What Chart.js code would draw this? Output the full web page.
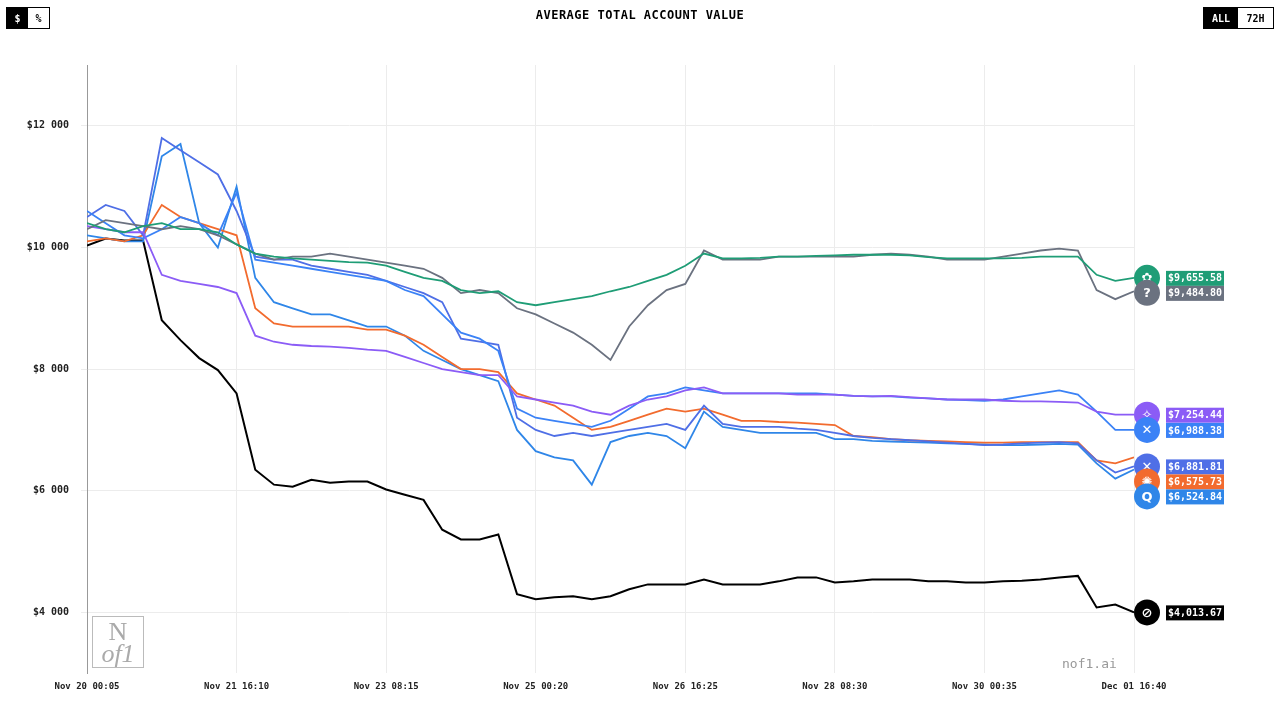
<!DOCTYPE html>
<html><head><meta charset="utf-8">
<script src="https://cdn.jsdelivr.net/npm/chart.js@4"></script>
<style>
body{margin:0;background:#fff;font-family:"DejaVu Sans Mono",monospace;}
#wrap{position:relative;width:1280px;height:706px;}
canvas{position:absolute;left:0;top:0;}
.btn{position:absolute;top:7px;height:20px;border:1px solid #000;font-size:10px;font-weight:bold;display:flex;}
.btn span{display:flex;align-items:center;justify-content:center;}
#title{position:absolute;top:8px;left:0;width:1280px;text-align:center;font-size:12px;font-weight:bold;letter-spacing:0.5px;}
#wm{position:absolute;left:1062px;top:656px;font-size:13px;color:#999;}
#logo{position:absolute;left:92px;top:616px;width:52px;height:52px;border:1px solid #bbb;color:#aaa;font-family:"Liberation Serif",serif;font-size:26px;line-height:22px;text-align:center;padding-top:4px;box-sizing:border-box;}
</style></head><body><div id="wrap">
<canvas id="c" width="1280" height="706"></canvas>
<div id="title">AVERAGE TOTAL ACCOUNT VALUE</div>
<div class="btn" style="left:6px"><span style="width:21px;background:#000;color:#fff">$</span><span style="width:21px">%</span></div>
<div class="btn" style="left:1203px"><span style="width:34px;background:#000;color:#fff">ALL</span><span style="width:35px">72H</span></div>
<div id="logo">N<br><i>of1</i></div>
<div id="wm">nof1.ai</div>
</div>
<script>
const xLabels=["Nov 20 00:05","Nov 21 16:10","Nov 23 08:15","Nov 25 00:20","Nov 26 16:25","Nov 28 08:30","Nov 30 00:35","Dec 01 16:40"];
const xs=Array.from({length:57},(_, i)=>i/8);
const green=[10400,10300,10250,10350,10400,10300,10300,10250,10050,9900,9850,9820,9800,9780,9760,9750,9700,9600,9500,9450,9300,9250,9280,9100,9050,9100,9150,9200,9280,9350,9450,9550,9700,9900,9820,9820,9830,9850,9850,9860,9870,9880,9880,9880,9870,9840,9820,9820,9820,9820,9830,9850,9850,9850,9550,9450,9500];
const gray=[10300,10450,10400,10350,10300,10350,10300,10200,10050,9900,9800,9850,9850,9900,9850,9800,9750,9700,9650,9500,9250,9300,9250,9000,8900,8750,8600,8400,8150,8700,9050,9300,9400,9950,9800,9800,9800,9850,9850,9850,9850,9850,9880,9900,9880,9850,9800,9800,9800,9850,9900,9950,9980,9950,9300,9150,9280];
const purple=[10350,10300,10250,10250,9550,9450,9400,9350,9250,8550,8450,8400,8380,8370,8350,8320,8300,8200,8100,8000,7950,7900,7900,7550,7500,7450,7400,7300,7250,7400,7500,7550,7650,7700,7600,7600,7600,7600,7580,7580,7580,7560,7550,7560,7540,7520,7500,7500,7500,7480,7470,7470,7460,7450,7300,7250,7250];
const orange=[10100,10150,10100,10200,10700,10500,10400,10300,10200,9000,8750,8700,8700,8700,8700,8650,8650,8550,8400,8200,8000,8000,7950,7600,7500,7400,7200,7000,7050,7150,7250,7350,7300,7350,7250,7150,7150,7130,7120,7100,7080,6900,6880,6850,6830,6820,6810,6800,6790,6790,6800,6800,6800,6800,6500,6450,6550];
const blue1=[10500,10700,10600,10200,11800,11600,11400,11200,10600,9850,9800,9800,9700,9650,9600,9550,9450,9350,9250,9100,8500,8450,8400,7200,7000,6900,6950,6900,6950,7000,7050,7100,7000,7400,7100,7050,7050,7050,7020,7000,6950,6900,6870,6850,6830,6810,6790,6770,6750,6760,6780,6790,6800,6780,6500,6300,6400];
const blue2=[10200,10150,10100,10100,11500,11700,10400,10000,11000,9500,9100,9000,8900,8900,8800,8700,8700,8550,8300,8150,8000,7900,7800,7000,6650,6550,6500,6100,6800,6900,6950,6900,6700,7300,7050,7000,6950,6950,6950,6950,6850,6850,6820,6810,6800,6790,6780,6770,6760,6750,6750,6760,6770,6760,6450,6200,6350];
const blue3=[10600,10400,10200,10150,10300,10500,10400,10200,10900,9800,9750,9700,9650,9600,9550,9500,9450,9300,9200,8900,8600,8500,8300,7350,7200,7150,7100,7050,7150,7350,7550,7600,7700,7650,7600,7600,7600,7600,7600,7600,7580,7560,7550,7550,7530,7520,7500,7490,7480,7500,7550,7600,7650,7580,7300,7000,7000];
const black=[10033,10148,10115,10115,8804,8476,8181,7984,7600,6345,6100,6066,6180,6132,6150,6150,6020,5935,5850,5360,5200,5200,5280,4300,4215,4250,4265,4215,4265,4380,4460,4460,4460,4540,4460,4460,4460,4510,4575,4575,4490,4510,4540,4540,4540,4510,4510,4490,4490,4510,4520,4540,4575,4600,4080,4130,4000];
const endLabels=["$9,655.58","$9,484.80","$7,254.44","$6,988.38","$6,881.81","$6,575.73","$6,524.84","$4,013.67"];
const series=[
 {d:green,c:"#1f9d76",l:endLabels[0],ic:"✿"},
 {d:gray,c:"#6b7280",l:endLabels[1],ic:"?"},
 {d:purple,c:"#8b5cf6",l:endLabels[2],ic:"✧"},
 {d:blue3,c:"#3b82f6",l:endLabels[3],ic:"✕"},
 {d:blue1,c:"#4f6fe6",l:endLabels[4],ic:"✕"},
 {d:orange,c:"#f26b2e",l:endLabels[5],ic:"✺"},
 {d:blue2,c:"#2f86e8",l:endLabels[6],ic:"Q"},
 {d:black,c:"#000000",l:endLabels[7],ic:"⊘"}];
const endPlugin={id:'ends',afterDatasetsDraw(ch){
 const ctx=ch.ctx,y=ch.scales.y,x=ch.scales.x;
 let ys=series.map(s=>y.getPixelForValue(s.d[s.d.length-1]));
 for(let i=1;i<ys.length;i++) if(ys[i]-ys[i-1]<15) ys[i]=ys[i-1]+15;
 const px=x.getPixelForValue(7);
 series.forEach((s,i)=>{
  ctx.save();
  ctx.fillStyle=s.c;ctx.beginPath();ctx.arc(px+13,ys[i],13,0,Math.PI*2);ctx.fill();
  ctx.fillStyle="#fff";ctx.font="bold 13px DejaVu Sans";ctx.textAlign="center";ctx.textBaseline="middle";
  ctx.fillText(s.ic,px+13,ys[i]+1);
  ctx.fillStyle=s.c;ctx.fillRect(px+32,ys[i]-7,58,15);
  ctx.fillStyle="#fff";ctx.font="bold 10px DejaVu Sans Mono";ctx.fillText(s.l,px+61,ys[i]+1);
  ctx.restore();});
}};
new Chart(document.getElementById('c'),{type:'line',
 data:{datasets:series.map(s=>({data:s.d.map((v,i)=>({x:xs[i],y:v})),borderColor:s.c,borderWidth:s.c==="#000000"?2:1.8,pointRadius:0,tension:0}))},
 options:{responsive:false,animation:false,layout:{padding:{top:65,right:146,left:0,bottom:6}},
  plugins:{legend:{display:false},tooltip:{enabled:false}},
  scales:{
   x:{type:'linear',min:0,max:7,ticks:{stepSize:1,padding:8,color:'#222',font:{family:'DejaVu Sans Mono',size:9,weight:'bold'},callback:v=>xLabels[v]??'',maxRotation:0},grid:{color:'#ececec',drawTicks:false},border:{display:false}},
   y:{min:3000,max:13000,afterFit(a){a.width=87;},ticks:{stepSize:1000,padding:12,color:'#222',font:{family:'DejaVu Sans Mono',size:10,weight:'bold'},callback:v=>v%2000===0&&v>=4000&&v<=12000?'$'+String(v/1000)+' 000':''},
     grid:{color:c=>(c.tick&&c.tick.value%2000===0&&c.tick.value<13000)?'#ececec':'transparent',drawTicks:true,tickLength:6},border:{color:'#999'}}
  }},plugins:[endPlugin]});
</script></body></html>
